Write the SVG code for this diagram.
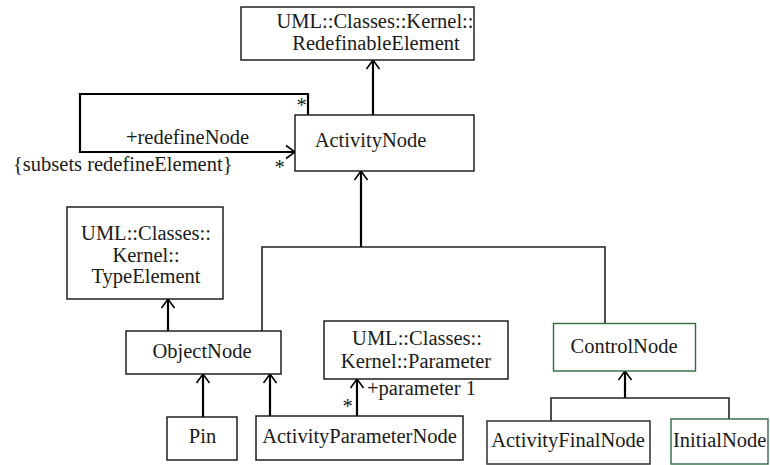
<svg xmlns="http://www.w3.org/2000/svg" width="770" height="465" viewBox="0 0 770 465">
<defs>
<style>
text{font-family:"Liberation Serif","Times New Roman",serif;font-size:20.5px;fill:#1a1a1a}
.m{text-anchor:middle}
.box{fill:#fff;stroke:#111;stroke-width:1.4}
.green{fill:#fff;stroke:#2f6b3f;stroke-width:1.4}
.gray{fill:#fff;stroke:#3a3a3a;stroke-width:1.6}
.c{fill:none;stroke:#000;stroke-width:2.2}
.t{fill:none;stroke:#222;stroke-width:1.6}
</style>
<marker id="open" markerUnits="userSpaceOnUse" markerWidth="20" markerHeight="20" viewBox="-10 -10 20 20" refX="0" refY="0" orient="auto">
<path d="M-9,-6.5 L0,0 L-9,6.5" fill="none" stroke="#000" stroke-width="1.6"/>
</marker>
</defs>
<g id="connectors">
<path class="c" d="M373,115 V60" marker-end="url(#open)"/>
<path class="c" d="M308,115 V94 H80 V152 H295" marker-end="url(#open)"/>
<path class="c" d="M361,247 V171" marker-end="url(#open)"/>
<path class="t" d="M262,331 V247 H605 V323.5"/>
<path class="c" d="M168,331 V299" marker-end="url(#open)"/>
<path class="c" d="M203,417 V374" marker-end="url(#open)"/>
<path class="c" d="M270,416 V374" marker-end="url(#open)"/>
<path class="c" d="M357,416 V379" marker-end="url(#open)"/>
<path class="c" d="M625,398 V371" marker-end="url(#open)"/>
<path class="t" d="M551,421 V398 H729 V419"/>
<text class="m" x="301.5" y="112">*</text>
<text class="m" x="187.5" y="144">+redefineNode</text>
<text x="13" y="171">{subsets redefineElement}</text>
<text class="m" x="279.5" y="174">*</text>
<text class="m" x="347.5" y="413">*</text>
<text x="367" y="395">+parameter 1</text>
</g>
<g id="RedefinableElement">
<rect class="box" x="241" y="7" width="233" height="53"/>
<text class="m" x="375" y="28">UML::Classes::Kernel::</text>
<text class="m" x="376" y="50">RedefinableElement</text>
</g>
<g id="ActivityNode">
<rect class="box" x="295" y="115" width="179" height="56"/>
<text class="m" x="370.5" y="147">ActivityNode</text>
</g>
<g id="TypeElement">
<rect class="box" x="67" y="207" width="156" height="92"/>
<text class="m" x="146" y="240">UML::Classes::</text>
<text class="m" x="146" y="261.5">Kernel::</text>
<text class="m" x="146" y="283">TypeElement</text>
</g>
<g id="ObjectNode">
<rect class="box" x="126" y="331" width="155" height="43"/>
<text class="m" x="202" y="358">ObjectNode</text>
</g>
<g id="Parameter">
<rect class="box" x="324" y="321" width="184" height="58"/>
<text class="m" x="417" y="345">UML::Classes::</text>
<text class="m" x="416" y="368">Kernel::Parameter</text>
</g>
<g id="ControlNode">
<rect class="green" x="553.5" y="323.5" width="142" height="47.5"/>
<text class="m" x="624" y="353">ControlNode</text>
</g>
<g id="Pin">
<rect class="box" x="167" y="417" width="70" height="43"/>
<text class="m" x="202.5" y="443">Pin</text>
</g>
<g id="ActivityParameterNode">
<rect class="box" x="256" y="416" width="207" height="44"/>
<text class="m" x="359.5" y="443">ActivityParameterNode</text>
</g>
<g id="ActivityFinalNode">
<rect class="gray" x="487" y="421" width="163" height="43"/>
<text class="m" x="568" y="447">ActivityFinalNode</text>
</g>
<g id="InitialNode">
<rect class="green" x="671" y="419" width="97" height="45"/>
<text x="673" y="447">InitialNode</text>
</g>
</svg>
